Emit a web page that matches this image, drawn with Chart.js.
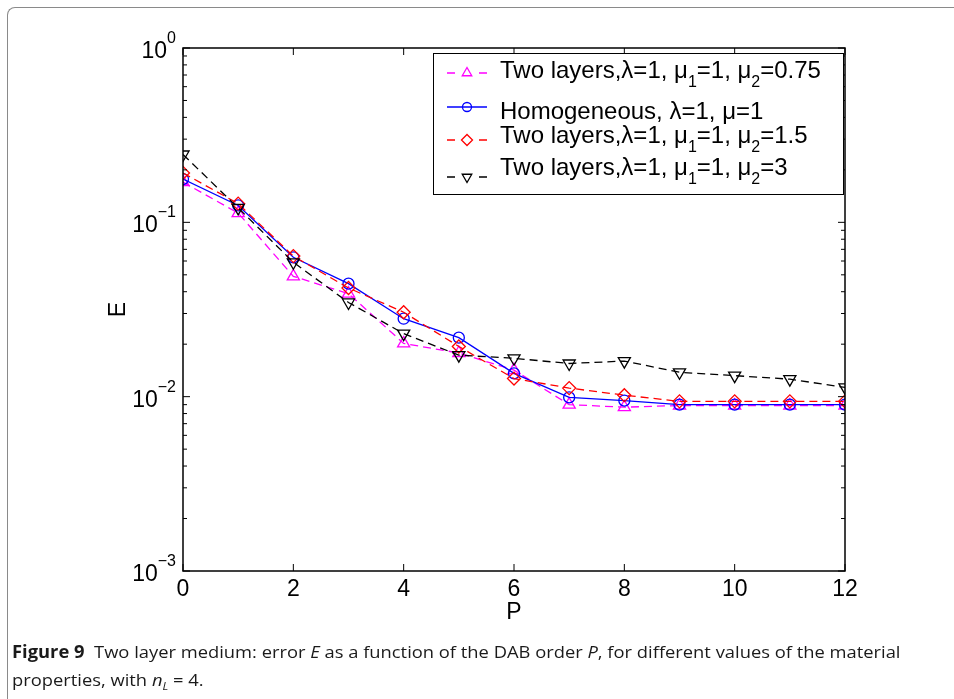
<!DOCTYPE html>
<html><head><meta charset="utf-8">
<script src="https://cdn.jsdelivr.net/npm/chart.js@4/dist/chart.umd.min.js"></script>
<style>
html,body{margin:0;padding:0;width:954px;height:699px;overflow:hidden;background:#fff;}
#frame{position:absolute;left:7px;top:7px;width:1000px;height:1000px;border-left:1.5px solid #8a8a8a;border-top:1.5px solid #8a8a8a;border-top-left-radius:8px;}
#c{position:absolute;left:0;top:0;}
.cap{position:absolute;left:12px;font-family:'Open Sans';font-size:17px;line-height:22px;color:#1a1a1a;white-space:nowrap;transform-origin:0 0;}
</style></head>
<body>
<div id="frame"></div>
<canvas id="c" width="954" height="699"></canvas>
<div class="cap" id="cap1" style="top:641px"><b>Figure 9</b>&nbsp; Two layer medium: error <i>E</i> as a function of the DAB order <i>P</i>, for different values of the material</div>
<div class="cap" id="cap2" style="top:669px">properties, with <i>n<sub style="font-size:11px;line-height:0">L</sub></i> = 4.</div>
<script>
// ---- data ----
const P = [0,1,2,3,4,5,6,7,8,9,10,11,12];
const E_two_075 = [0.170,0.113,0.049,0.039,0.0202,0.0178,0.0142,0.0090,0.0087,0.0089,0.0089,0.0089,0.0089];
const E_homog   = [0.177,0.125,0.063,0.0445,0.028,0.0218,0.0136,0.0099,0.0095,0.0090,0.0090,0.0090,0.0090];
const E_two_15  = [0.192,0.128,0.064,0.042,0.0305,0.0194,0.0127,0.0112,0.0102,0.0094,0.0094,0.0094,0.0094];
const E_two_3   = [0.245,0.121,0.059,0.0347,0.023,0.0173,0.0166,0.0155,0.0160,0.0138,0.0132,0.0126,0.0113];
const xTicks = [0,2,4,6,8,10,12];
const yDecades = [0,-1,-2,-3];
const legendParts = [
  [["Two layers,\u03bb=1, \u03bc",0],["1",1],["=1, \u03bc",0],["2",1],["=0.75",0]],
  [["Homogeneous, \u03bb=1, \u03bc=1",0]],
  [["Two layers,\u03bb=1, \u03bc",0],["1",1],["=1, \u03bc",0],["2",1],["=1.5",0]],
  [["Two layers,\u03bb=1, \u03bc",0],["1",1],["=1, \u03bc",0],["2",1],["=3",0]]
];

const FONT = '"Liberation Sans", Arial, sans-serif';
const DASH = [8,5];

function mk(label, vals, color, style, rot, dash, radius, order){
  return {label, data: P.map((p,i)=>({x:p,y:vals[i]})), borderColor:color, backgroundColor:'rgba(0,0,0,0)',
    borderWidth:1.3, borderDash:dash, pointStyle:style, pointRotation:rot, pointRadius:radius,
    pointBorderColor:color, pointBackgroundColor:'rgba(0,0,0,0)', pointBorderWidth:1.3,
    tension:0, fill:false, order};
}
const datasets = [
  mk('m075', E_two_075, '#ff00ff', 'triangle', 0, DASH, 7, 4),
  mk('hom', E_homog, '#0000ff', 'circle', 0, [], 5.5, 3),
  mk('m15', E_two_15, '#ff0000', 'rectRot', 0, DASH, 6.5, 2),
  mk('m3', E_two_3, '#000000', 'triangle', 180, DASH, 7, 1)
];
const legendRows = [
  {color:'#ff00ff', style:'triangle', rot:0, r:5.5, dash:true, base:78, my:73},
  {color:'#0000ff', style:'circle', rot:0, r:4.5, dash:false, base:119, my:107},
  {color:'#ff0000', style:'rectRot', rot:0, r:5.5, dash:true, base:143, my:140},
  {color:'#000000', style:'triangle', rot:180, r:5.5, dash:true, base:175, my:177}
];

const matlab = {
  id:'matlab',
  afterDatasetsDraw(chart){
    const {ctx, chartArea:a, scales:{x, y}} = chart;
    ctx.save();
    ctx.strokeStyle='#000'; ctx.lineWidth=1.5; ctx.setLineDash([]);
    ctx.strokeRect(a.left, a.top, a.right-a.left, a.bottom-a.top);
    ctx.lineWidth=1;
    ctx.beginPath();
    for(const t of xTicks){
      const px = x.getPixelForValue(t);
      ctx.moveTo(px, a.bottom); ctx.lineTo(px, a.bottom-7);
      ctx.moveTo(px, a.top); ctx.lineTo(px, a.top+7);
    }
    for(const d of yDecades){
      const py = y.getPixelForValue(Math.pow(10,d));
      ctx.moveTo(a.left, py); ctx.lineTo(a.left+7, py);
      ctx.moveTo(a.right, py); ctx.lineTo(a.right-7, py);
      if(d<0){
        for(let k=2;k<=9;k++){
          const pm = y.getPixelForValue(k*Math.pow(10,d));
          ctx.moveTo(a.left, pm); ctx.lineTo(a.left+4, pm);
          ctx.moveTo(a.right, pm); ctx.lineTo(a.right-4, pm);
        }
      }
    }
    ctx.stroke();
    // y tick labels with superscripts
    ctx.fillStyle='#000'; ctx.textBaseline='alphabetic'; ctx.textAlign='left';
    for(const d of yDecades){
      const py = y.getPixelForValue(Math.pow(10,d));
      const exp = d===0 ? '0' : '\u2212'+(-d);
      ctx.font = '16px '+FONT; const we = ctx.measureText(exp).width;
      ctx.font = '23px '+FONT; const wb = ctx.measureText('10').width;
      const right = a.left - 7;
      ctx.fillText('10', right-we-wb, py+10);
      ctx.font = '16px '+FONT; ctx.fillText(exp, right-we, py-5);
    }
    // legend
    const L=433, T=53, R=843, B=194;
    ctx.fillStyle='#fff'; ctx.fillRect(L,T,R-L,B-T);
    ctx.strokeStyle='#000'; ctx.lineWidth=1; ctx.strokeRect(L+0.5,T+0.5,R-L,B-T);
    legendRows.forEach((row,i)=>{
      ctx.strokeStyle=row.color; ctx.lineWidth=1.3;
      ctx.beginPath();
      if(row.dash){ ctx.moveTo(447,row.my); ctx.lineTo(455,row.my); ctx.moveTo(479,row.my); ctx.lineTo(487,row.my);}
      else { ctx.moveTo(447,row.my); ctx.lineTo(487,row.my); }
      ctx.stroke();
      ctx.fillStyle='rgba(0,0,0,0)';
      Chart.helpers.drawPoint(ctx,{pointStyle:row.style, rotation:row.rot, radius:row.r, borderWidth:1.3}, 467, row.my);
      ctx.fillStyle='#000';
      let cx = 500;
      for(const [txt, sub] of legendParts[i]){
        ctx.font = (sub? '16px ':'24px ')+FONT;
        ctx.fillText(txt, cx, row.base + (sub?9:0));
        cx += ctx.measureText(txt).width;
      }
    });
    ctx.restore();
  }
};

new Chart(document.getElementById('c'), {
  type:'line',
  data:{datasets},
  options:{
    responsive:false, devicePixelRatio:1, animation:false, events:[],
    layout:{padding:{left:0, top:48, right:109, bottom:68}},
    plugins:{legend:{display:false}, tooltip:{enabled:false}},
    scales:{
      x:{type:'linear', min:0, max:12,
        afterFit(s){ s.height=60; },
        afterBuildTicks(s){ s.ticks = xTicks.map(v=>({value:v})); },
        grid:{display:false, drawTicks:false}, border:{display:false},
        ticks:{color:'#000', font:{family:FONT, size:23}, padding:5, maxRotation:0, autoSkip:false},
        title:{display:true, text:'P', color:'#000', font:{family:FONT, size:23}, padding:{top:0,bottom:5}}
      },
      y:{type:'logarithmic', min:0.001, max:1,
        afterFit(s){ s.width=183; },
        grid:{display:false, drawTicks:false}, border:{display:false},
        ticks:{display:false},
        title:{display:true, text:'E', color:'#000', font:{family:FONT, size:23}, padding:{top:105,bottom:0}}
      }
    }
  },
  plugins:[matlab]
});

// fit caption lines to the reference width
(function(){
  const c1=document.getElementById('cap1'), c2=document.getElementById('cap2');
  const s = 889 / c1.scrollWidth;
  c1.style.transform='scaleX('+s+')'; c2.style.transform='scaleX('+s+')';
})();
</script>
</body></html>
